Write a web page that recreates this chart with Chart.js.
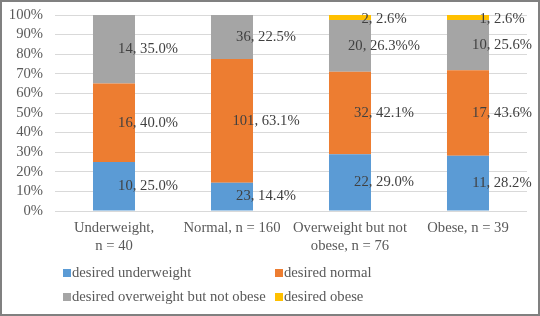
<!DOCTYPE html>
<html>
<head>
<meta charset="utf-8">
<script src="https://cdn.jsdelivr.net/npm/chart.js@4"></script>
<style>
  html, body { margin: 0; padding: 0; background: #fff; }
  #wrap { width: 540px; height: 316px; }
</style>
</head>
<body>
<div id="wrap"><canvas id="c" width="540" height="316"></canvas></div>
<script>
const categories = [
  ['Underweight,', 'n = 40'],
  ['Normal, n = 160'],
  ['Overweight but not', 'obese, n = 76'],
  ['Obese, n = 39'],
]
const seriesNames = ['desired underweight', 'desired normal', 'desired overweight but not obese', 'desired obese']
const colors = ['#5B9BD5', '#ED7D31', '#A5A5A5', '#FFC000']

// percent of group, and counts shown in the labels
const underPct = [25.0, 14.4, 29.0, 28.2]
const normalPct = [40.0, 63.1, 42.1, 43.6]
const overPct = [35.0, 22.5, 26.3, 25.6]
const obesePct = [0, 0, 2.6, 2.6]

const underN = [10, 23, 22, 11]
const normalN = [16, 101, 32, 17]
const overN = [14, 36, 20, 10]
const obeseN = [0, 0, 2, 1]

// the source has one label printed with a doubled % sign
const labelFix = { '2-2': '20, 26.3%%' }

const yTicks = [0, 10, 20, 30, 40, 50, 60, 70, 80, 90, 100]

const pcts = [underPct, normalPct, overPct, obesePct]
const counts = [underN, normalN, overN, obeseN]
const serif = "'Liberation Serif', 'Times New Roman', serif"
const fs = 14.67 // 11pt

const segLabels = {
  id: 'segLabels',
  afterDatasetsDraw(chart) {
    const ctx = chart.ctx
    ctx.save()
    ctx.font = fs + 'px ' + serif
    ctx.fillStyle = '#404040'
    ctx.textAlign = 'center'
    ctx.textBaseline = 'middle'
    chart.data.datasets.forEach((ds, i) => {
      chart.getDatasetMeta(i).data.forEach((bar, j) => {
        if (!ds.data[j]) return
        const txt = labelFix[i + '-' + j] || `${counts[i][j]}, ${pcts[i][j].toFixed(1)}%`
        let y = (bar.y + bar.base) / 2
        y = Math.max(y, chart.chartArea.top + 4)
        ctx.fillText(txt, bar.x + 34, y)
      })
    })
    ctx.restore()
  }
}

const gridLegend = {
  id: 'gridLegend',
  afterDraw(chart) {
    const ctx = chart.ctx
    const a = chart.chartArea
    const cols = [a.left + 8, a.left + 220]
    const rows = [a.bottom + 62, a.bottom + 86]
    ctx.save()
    ctx.font = fs + 'px ' + serif
    ctx.textBaseline = 'middle'
    ctx.textAlign = 'left'
    chart.data.datasets.forEach((ds, i) => {
      const x = cols[i % 2]
      const y = rows[Math.floor(i / 2)]
      ctx.fillStyle = ds.backgroundColor
      ctx.fillRect(x, y - 4, 8, 8)
      ctx.fillStyle = '#595959'
      ctx.fillText(ds.label, x + 9, y)
    })
    // outer frame
    ctx.strokeStyle = '#808080'
    ctx.lineWidth = 2
    ctx.strokeRect(1, 1, chart.width - 2, chart.height - 2)
    ctx.restore()
  }
}

new Chart(document.getElementById('c'), {
  type: 'bar',
  data: {
    labels: categories,
    datasets: seriesNames.map((name, i) => ({
      label: name,
      data: pcts[i],
      backgroundColor: colors[i],
      borderWidth: 0,
      categoryPercentage: 1,
      barPercentage: 0.356,
    }))
  },
  options: {
    responsive: false,
    animation: false,
    layout: { padding: { top: 15, right: 13, bottom: 55, left: 0 } },
    plugins: {
      legend: { display: false },
      tooltip: { enabled: false },
    },
    scales: {
      x: {
        stacked: true,
        grid: { display: false, drawTicks: false },
        border: { display: false },
        afterFit: s => { s.height = 50 },
        ticks: {
          color: '#595959',
          padding: 9,
          maxRotation: 0,
          autoSkip: false,
          font: { family: serif, size: fs, lineHeight: 1.17 },
        }
      },
      y: {
        stacked: true,
        min: 0,
        max: 100,
        afterFit: s => {
          s.width = 55
          s.paddingTop = 0
          s.paddingBottom = 0
        },
        afterBuildTicks: s => { s.ticks = yTicks.map(v => ({ value: v })) },
        grid: { color: '#D9D9D9', drawTicks: false },
        border: { display: false },
        ticks: {
          color: '#595959',
          padding: 12,
          autoSkip: false,
          stepSize: 10,
          font: { family: serif, size: fs },
          callback: v => v + '%',
        }
      }
    }
  },
  plugins: [segLabels, gridLegend]
})
</script>
</body>
</html>
